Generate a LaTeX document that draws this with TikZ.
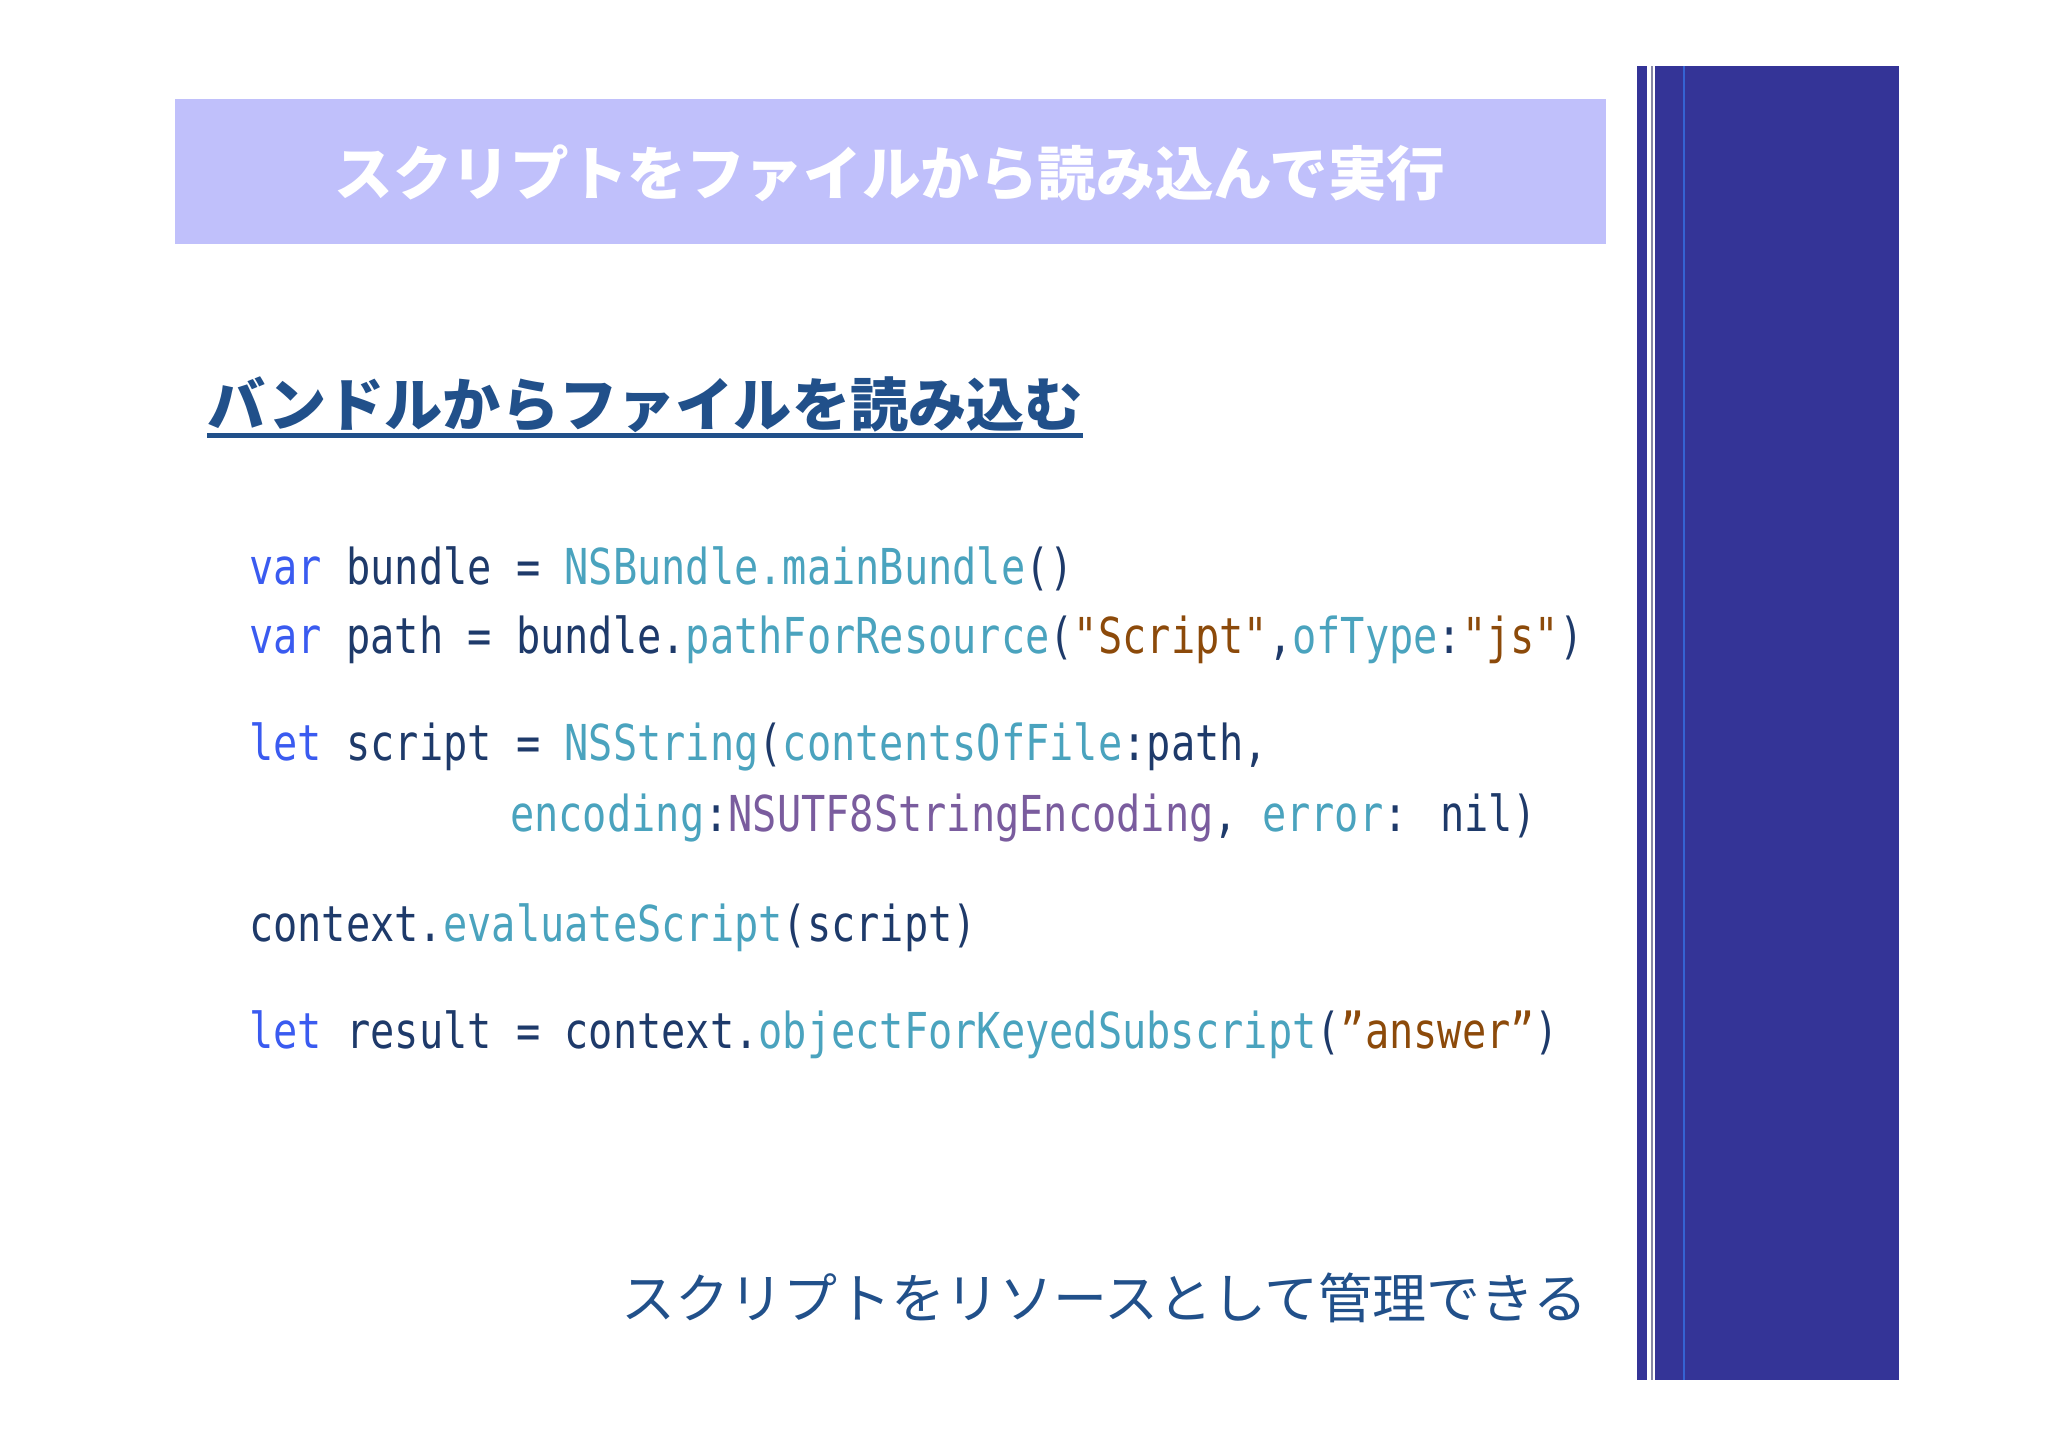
\documentclass[tikz,border=0pt]{standalone}
\usepackage{fontspec}
\newfontfamily\jpfont{Noto Sans CJK JP}
\newfontfamily\codefont[FakeStretch=0.814]{DejaVu Sans Mono}
\definecolor{barblue}{HTML}{343497}
\definecolor{barline}{HTML}{3563D2}
\definecolor{bargray}{HTML}{8686A6}
\definecolor{bandlav}{HTML}{C0C0FB}
\definecolor{headblue}{HTML}{21508A}
\definecolor{plain}{HTML}{1E3A6A}
\definecolor{kw}{HTML}{3A5BF0}
\definecolor{fn}{HTML}{4AA3BE}
\definecolor{str}{HTML}{8C4A0A}
\definecolor{cst}{HTML}{7A5C9E}
\newcommand{\kw}[1]{\textcolor{kw}{#1}}
\newcommand{\fn}[1]{\textcolor{fn}{#1}}
\newcommand{\str}[1]{\textcolor{str}{#1}}
\newcommand{\cst}[1]{\textcolor{cst}{#1}}
\begin{document}
\begin{tikzpicture}[x=1pt,y=-1pt,
  codeline/.style={anchor=base west, inner sep=0pt, text=plain, font=\codefont\fontsize{49.5}{60}\selectfont},
  jptext/.style={inner sep=0pt, font=\jpfont}]
\useasboundingbox (0,0) rectangle (2048,1447);
% side bars
\fill[barblue] (1637,66) rectangle (1647,1380);
\fill[bargray] (1651,66) rectangle (1653,1380);
\fill[barblue] (1655,66) rectangle (1899,1380);
\fill[barline] (1682.5,66) rectangle (1684.5,1380);
% title band
\fill[bandlav] (175,99) rectangle (1606,244);
\node[jptext, text=white, font=\jpfont\bfseries\fontsize{58.6}{70}\selectfont] (title) at (890,173) {スクリプトをファイルから読み込んで実行};
% heading
\node[jptext, anchor=west, text=headblue, font=\jpfont\bfseries\fontsize{58.2}{70}\selectfont] (head) at (207,405) {バンドルからファイルを読み込む};
\draw[headblue, line width=5] (207,435) -- (1083,435);
% code
\node[codeline] (l1) at (249,584) {\kw{var} bundle = \fn{NSBundle.mainBundle}()};
\node[codeline] (l2) at (249,653) {\kw{var} path = bundle.\fn{pathForResource}(\str{"Script"},\fn{ofType}:\str{"js"})};
\node[codeline] (l3) at (249,760) {\kw{let} script = \fn{NSString}(\fn{contentsOfFile}:path,};
\node[codeline] (l4) at (510,831) {\fn{encoding}:\cst{NSUTF8StringEncoding}, \fn{error}: nil)};
\node[codeline] (l5) at (249,941) {context.\fn{evaluateScript}(script)};
\node[codeline] (l6) at (249,1048) {\kw{let} result = context.\fn{objectForKeyedSubscript}(\str{”answer”})};
% footer
\node[jptext, anchor=east, text=headblue, font=\jpfont\fontsize{54}{64}\selectfont] (foot) at (1588,1298) {スクリプトをリソースとして管理できる};
\end{tikzpicture}
\end{document}
